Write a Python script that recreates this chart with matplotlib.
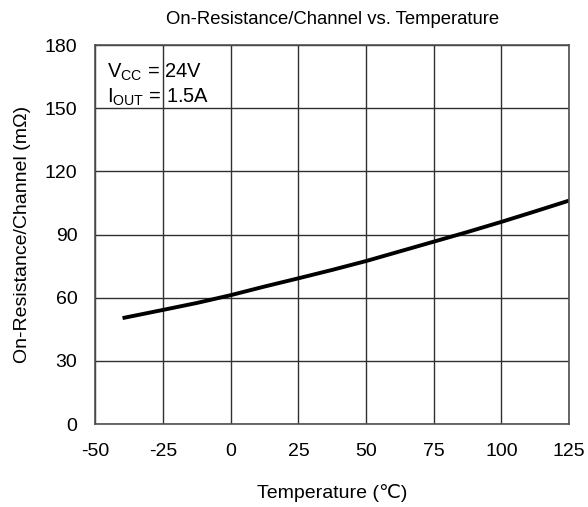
import matplotlib
matplotlib.use("Agg")
import matplotlib.pyplot as plt

# Dados
temp_c = [-40, -25, -12.5, 0, 12.5, 25, 37.5, 50, 62.5, 75, 87.5, 100, 112.5, 125]
ron_mohm = [50.3, 54.2, 57.5, 61.2, 65.3, 69.2, 73.2, 77.4, 82.0, 86.6, 91.2, 96.0, 101.0, 106.1]

x_ticks = [-50, -25, 0, 25, 50, 75, 100, 125]
y_ticks = [0, 30, 60, 90, 120, 150, 180]

plt.rcParams.update({
    "font.family": ["Liberation Sans", "DejaVu Sans"],
    "font.size": 14,
    "axes.unicode_minus": False,
    "mathtext.fontset": "custom",
    "mathtext.rm": "Liberation Sans",
    "mathtext.it": "Liberation Sans",
})

fig = plt.figure(figsize=(5.88, 5.07), dpi=100)
ax = fig.add_axes([0.1624, 0.1637, 0.8053, 0.7475])

ax.plot(temp_c, ron_mohm, color="black", lw=2.8, solid_capstyle="butt")

ax.set_xlim(-50, 125)
ax.set_ylim(0, 180)
ax.set_xticks(x_ticks)
ax.set_yticks(y_ticks)
ax.tick_params(length=0, labelsize=14)
ax.tick_params(axis="y", pad=13)
ax.tick_params(axis="x", pad=14)
ax.grid(True, color="#303030", lw=1.0)
for s in ax.spines.values():
    s.set_color("#505050")
    s.set_linewidth(1.2)

ax.set_title("On-Resistance/Channel vs. Temperature", fontsize=13.3, pad=15)
ax.set_xlabel("Temperature (℃)", labelpad=17)
ax.set_ylabel("On-Resistance/Channel (mΩ)", labelpad=10)

ax.text(0.024, 0.928, r"V$_{\mathregular{CC}}$ = 24V", transform=ax.transAxes,
        ha="left", va="center", fontsize=14.5)
ax.text(0.024, 0.862, r"I$_{\mathregular{OUT}}$ = 1.5A", transform=ax.transAxes,
        ha="left", va="center", fontsize=14.5)

fig.savefig("out.png", dpi=100)
